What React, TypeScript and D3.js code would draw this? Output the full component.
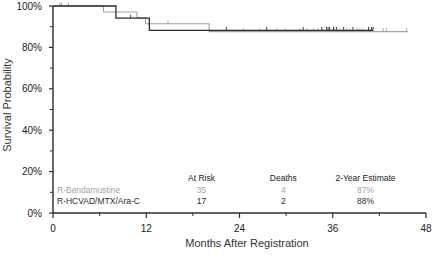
import { scaleLinear, range } from "d3"

// step points: [month, survival]
const benda = [[0, 1], [6.5, 0.971], [10.8, 0.943], [11.9, 0.914], [20.1, 0.876], [45.7, 0.876]]
const hcvad = [[0, 1], [8.1, 0.941], [12.4, 0.882], [41.2, 0.882]]

// censor marks (months)
const bendaCensor = [0.9, 1.1, 2.0, 14.8, 24.5, 26.6, 28.8, 29.9, 31.8, 32.7, 33.5, 34.1, 36.3, 36.9, 37.8, 38.2, 39.1, 39.5, 39.9, 40.8, 42.5, 42.9, 45.5]
const hcvadCensor = [10.0, 22.3, 27.5, 32.2, 34.6, 35.2, 35.4, 35.6, 36.1, 36.5, 37.4, 38.6, 40.6, 41.0, 41.2]

const xTicks = [0, 12, 24, 36, 48]
const xMinor = [6, 18, 30, 42]
const yTicks = [0, 0.2, 0.4, 0.6, 0.8, 1]
const yMinor = [0.1, 0.3, 0.5, 0.7, 0.9]

const tableHeads = ["At Risk", "Deaths", "2-Year Estimate"]
const arms = ["R-Bendamustine", "R-HCVAD/MTX/Ara-C"]
const atRisk = ["35", "17"]
const deaths = ["4", "2"]
const estimate = ["87%", "88%"]

const GRAY = "#a3a3a3"
const DARK = "#2b2b2b"
const font = "Arial, 'Liberation Sans', sans-serif"

const App = () => {
    const x = scaleLinear().domain([0, 48]).range([53, 426])
    const y = scaleLinear().domain([0, 1]).range([213, 6])

    const stepPath = (pts) => {
        let d = `M${x(pts[0][0])},${y(pts[0][1])}`
        for (let i = 1; i < pts.length; i++) {
            d += `H${x(pts[i][0])}V${y(pts[i][1])}`
        }
        return d
    }
    const survAt = (pts, t) => {
        let s = pts[0][1]
        pts.forEach(([m, v]) => { if (m <= t) s = v })
        return s
    }
    const censorMarks = (pts, times, color) => times.map((t, i) => (
        <line key={i} x1={x(t)} x2={x(t)} y1={y(survAt(pts, t))} y2={y(survAt(pts, t)) - 3.5}
            stroke={color} strokeWidth={0.9} />
    ))

    const colX = [201.5, 283.3, 365.5]
    const rowY = [192.5, 203.5]
    const armColor = [GRAY, DARK]

    return (
        <svg width={435} height={256} style={{ position: "absolute", left: 0, top: 0, background: "#fff" }}
            fontFamily={font}>
            <path d={stepPath(benda)} fill="none" stroke={GRAY} strokeWidth={1.1} />
            {censorMarks(benda, bendaCensor, GRAY)}
            <path d={stepPath(hcvad)} fill="none" stroke={DARK} strokeWidth={1.3} />
            {censorMarks(hcvad, hcvadCensor, DARK)}

            {/* y axis */}
            <line x1={x(0)} x2={x(0)} y1={y(1)} y2={y(0)} stroke={DARK} strokeWidth={1.4} />
            {yTicks.map(t => (
                <g key={t}>
                    <line x1={x(0) - 4} x2={x(0)} y1={y(t)} y2={y(t)} stroke={DARK} strokeWidth={1.2} />
                    <text x={x(0) - 11} y={y(t)} dy="0.35em" textAnchor="end" fontSize={10} fill="#222">
                        {Math.round(t * 100)}%
                    </text>
                </g>
            ))}
            {yMinor.map(t => (
                <line key={t} x1={x(0) - 3} x2={x(0)} y1={y(t)} y2={y(t)} stroke={DARK} strokeWidth={1} />
            ))}

            {/* x axis */}
            <line x1={x(0)} x2={x(48)} y1={y(0)} y2={y(0)} stroke={DARK} strokeWidth={1.4} />
            {xTicks.map(t => (
                <g key={t}>
                    <line x1={x(t)} x2={x(t)} y1={y(0)} y2={y(0) + 5} stroke={DARK} strokeWidth={1.2} />
                    <text x={x(t)} y={231.5} textAnchor="middle" fontSize={10} fill="#222">{t}</text>
                </g>
            ))}
            {xMinor.map(t => (
                <line key={t} x1={x(t)} x2={x(t)} y1={y(0)} y2={y(0) + 3} stroke={DARK} strokeWidth={1} />
            ))}

            <text x={247} y={247} textAnchor="middle" fontSize={11} fill="#333">Months After Registration</text>
            <text transform="translate(11,105) rotate(-90)" textAnchor="middle" fontSize={11} fill="#333">
                Survival Probability
            </text>

            {/* risk table */}
            {tableHeads.map((h, i) => (
                <text key={h} x={colX[i]} y={181} textAnchor="middle" fontSize={8.5} fill="#222">{h}</text>
            ))}
            {range(arms.length).map(i => (
                <g key={i} fontSize={8.5} fill={armColor[i]}>
                    <text x={57} y={rowY[i]}>{arms[i]}</text>
                    <text x={colX[0]} y={rowY[i]} textAnchor="middle">{atRisk[i]}</text>
                    <text x={colX[1]} y={rowY[i]} textAnchor="middle">{deaths[i]}</text>
                    <text x={colX[2]} y={rowY[i]} textAnchor="middle">{estimate[i]}</text>
                </g>
            ))}
        </svg>
    )
}

export default App
